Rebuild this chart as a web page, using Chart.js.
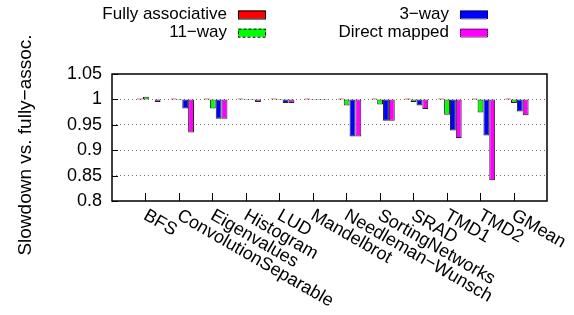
<!DOCTYPE html>
<html lang="en">
<head>
<meta charset="UTF-8">
<title>Slowdown vs. fully-assoc.</title>
<script src="https://cdn.jsdelivr.net/npm/chart.js@4.4.1/dist/chart.umd.min.js"></script>
<style>
  html, body { margin: 0; padding: 0; background: #fff; }
  #wrap { width: 574px; height: 315px; }
</style>
</head>
<body>
<div id="wrap"><canvas id="chart" width="574" height="315"></canvas></div>
<script>
const benchmarks = ['BFS', 'ConvolutionSeparable', 'Eigenvalues', 'Histogram', 'LUD', 'Mandelbrot',
  'Needleman\u2212Wunsch', 'SortingNetworks', 'SRAD', 'TMD1', 'TMD2', 'GMean'];
const fullyAssoc   = [1, 1, 1, 1, 1, 1, 1, 1, 1, 1, 1, 1];
const way11        = [1.005, 0.999, 0.982, 0.999, 0.999, 0.999, 0.988, 0.990, 0.995, 0.970, 0.974, 0.993];
const way3         = [1.000, 0.982, 0.962, 0.999, 0.993, 0.999, 0.927, 0.958, 0.988, 0.939, 0.929, 0.976];
const directMapped = [0.995, 0.935, 0.962, 0.995, 0.993, 0.999, 0.927, 0.958, 0.981, 0.924, 0.841, 0.969];
const yTicks = [0.8, 0.85, 0.9, 0.95, 1, 1.05];

const BASE = 1;          // bars hang from the fully-associative level
const GROUP_SHIFT = 0.1; // gnuplot puts each cluster a bit right of its tic
const FONT = '"Liberation Sans", Arial, sans-serif';

function series(vals) {
  return vals.map((v, i) => ({ x: i + GROUP_SHIFT, y: [BASE, v] }));
}

// frame, inward tics, rotated labels, y title and the two-column key
const plotDecor = {
  id: 'plotDecor',
  afterDraw(chart) {
    const { ctx, chartArea: a, scales: { x, y } } = chart;
    ctx.save();
    ctx.strokeStyle = '#000';
    ctx.lineWidth = 1;
    ctx.beginPath();
    yTicks.forEach(v => {
      const py = Math.round(y.getPixelForValue(v)) + 0.5;
      ctx.moveTo(a.left, py); ctx.lineTo(a.left + 6, py);
    });
    benchmarks.forEach((_, i) => {
      const px = Math.round(x.getPixelForValue(i)) + 0.5;
      ctx.moveTo(px, a.bottom); ctx.lineTo(px, a.bottom - 8);
    });
    ctx.stroke();

    ctx.lineWidth = 1.5;
    ctx.strokeRect(a.left, a.top, a.right - a.left, a.bottom - a.top);

    ctx.fillStyle = '#000';
    ctx.font = '18px ' + FONT;
    ctx.textAlign = 'left';
    ctx.textBaseline = 'alphabetic';
    benchmarks.forEach((name, i) => {
      ctx.save();
      ctx.translate(x.getPixelForValue(i) - 3, a.bottom + 17.5);
      ctx.rotate(Math.PI / 6);
      ctx.fillText(name, 0, 0);
      ctx.restore();
    });

    ctx.save();
    ctx.translate(30.5, 145);
    ctx.rotate(-Math.PI / 2);
    ctx.font = '19px ' + FONT;
    ctx.textAlign = 'center';
    ctx.fillText('Slowdown vs. fully\u2212assoc.', 0, 0);
    ctx.restore();

    // key: text right-aligned before the swatch, filled column by column
    const cols = [238, 460], rows = [14.5, 32.7];
    const dashes = [[], [3, 2], [1, 1], [1, 1]];
    ctx.font = '17px ' + FONT;
    ctx.textAlign = 'right';
    ctx.textBaseline = 'middle';
    chart.data.datasets.forEach((ds, i) => {
      const sx = cols[Math.floor(i / 2)], cy = rows[i % 2];
      ctx.fillStyle = '#000';
      ctx.fillText(ds.label, sx - 11, cy);
      ctx.fillStyle = ds.backgroundColor;
      ctx.fillRect(sx, cy - 4, 28, 8);
      ctx.lineWidth = 1;
      ctx.setLineDash(dashes[i]);
      ctx.strokeRect(sx + 0.5, cy - 3.5, 27, 8);
      ctx.setLineDash([]);
    });
    ctx.restore();
  }
};

new Chart(document.getElementById('chart'), {
  type: 'bar',
  data: {
    datasets: [
      { label: 'Fully associative', data: series(fullyAssoc), backgroundColor: '#ff0000', borderColor: '#7a0000', minBarLength: 1 },
      { label: '11\u2212way', data: series(way11), backgroundColor: '#00ff00' },
      { label: '3\u2212way', data: series(way3), backgroundColor: '#0000ff' },
      { label: 'Direct mapped', data: series(directMapped), backgroundColor: '#ff00ff' }
    ]
  },
  options: {
    responsive: false,
    animation: false,
    layout: { padding: { top: 74, right: 27, left: 0, bottom: 0 } },
    datasets: {
      bar: {
        borderColor: '#222',
        borderWidth: 1,
        borderSkipped: false,
        categoryPercentage: 0.7,
        barPercentage: 1
      }
    },
    plugins: { legend: { display: false }, tooltip: { enabled: false } },
    scales: {
      x: {
        type: 'linear',
        min: -1,
        max: 12,
        offset: false,
        ticks: { display: false, stepSize: 1 },
        grid: { display: false },
        border: { display: false },
        afterFit(s) { s.height = 114; }
      },
      y: {
        min: 0.8,
        max: 1.05,
        afterBuildTicks(s) { s.ticks = yTicks.map(v => ({ value: v })); },
        ticks: {
          color: '#000',
          padding: 10,
          font: { family: FONT, size: 18 },
          callback: v => String(+v.toFixed(2))
        },
        grid: {
          drawTicks: false,
          lineWidth: 1,
          color: c => (c.tick && c.tick.value > 0.801 && c.tick.value < 1.049) ? '#707070' : 'rgba(0,0,0,0)'
        },
        border: { display: false, dash: [1, 3] },
        afterFit(s) { s.width = 112; }
      }
    }
  },
  plugins: [plotDecor]
});
</script>
</body>
</html>
